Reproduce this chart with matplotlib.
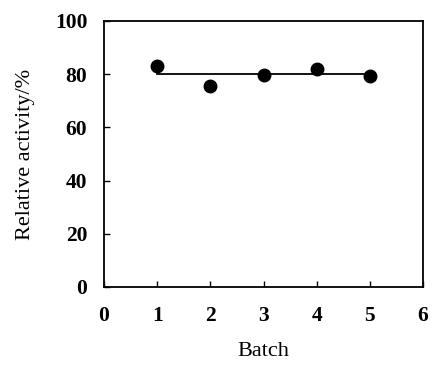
import matplotlib
matplotlib.use('Agg')
import matplotlib.pyplot as plt

batch = [1, 2, 3, 4, 5]
activity = [83.0, 75.4, 79.6, 82.1, 79.5]
mean_level = 80

plt.rcParams['font.family'] = ['Liberation Serif', 'DejaVu Serif']

fig = plt.figure(figsize=(4.36, 3.66), dpi=100)
# axes box: x 104..423 px, y 21..287 px
ax = fig.add_axes([104 / 436, 1 - 287 / 366, 319 / 436, 266 / 366])

ax.plot(batch, activity, 'o', color='black', markersize=9)
ax.plot([batch[0], batch[-1]], [mean_level, mean_level], color='black', lw=1.3)

ax.set_xlim(0, 6)
ax.set_ylim(0, 100)
ax.set_xticks(range(0, 7))
ax.set_yticks(range(0, 101, 20))
ax.tick_params(direction='in', length=4, width=1, labelsize=15.5)
ax.tick_params(axis='x', pad=14)
ax.tick_params(axis='y', pad=12)
for lab in ax.get_xticklabels() + ax.get_yticklabels():
    lab.set_fontweight('bold')
for s in ax.spines.values():
    s.set_linewidth(1.3)

ax.set_xlabel('Batch', fontsize=16, labelpad=11)
ax.set_ylabel('Relative activity/%', fontsize=16, labelpad=14)

fig.savefig('out.png', dpi=100)
